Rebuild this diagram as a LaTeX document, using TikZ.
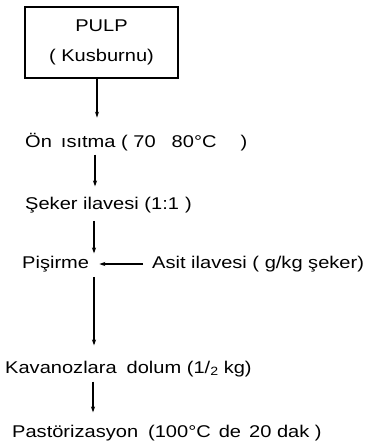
\documentclass[tikz,border=0pt]{standalone}
\usepackage{fontspec}
\setmainfont[FakeStretch=1.18]{Liberation Sans}
\usetikzlibrary{arrows.meta,calc}
\begin{document}
\begin{tikzpicture}[x=1pt,y=1pt,
  txt/.style={inner sep=0pt,anchor=base west,font=\fontsize{17}{20}\selectfont},
  arr/.style={-{Stealth[length=6pt,width=4pt]},line width=1.1pt},
  pbox/.style={draw,line width=1.1pt,minimum width=153pt,minimum height=71pt,inner sep=0pt,align=center,font=\fontsize{17}{30}\selectfont}]
\useasboundingbox (0,0) rectangle (365,-448);
\node[pbox] (pulp) at (101.5,-42.5) {PULP\\( Kusburnu)};
\node[txt] (on) at (25,-147) {Ön\hspace{9pt}ısıtma ( 70\hspace{16pt}80°C\hspace{24pt})};
\node[txt] (seker) at (25,-209) {Şeker ilavesi (1:1\hspace{6pt})};
\node[txt] (pis) at (22,-268) {Pişirme};
\node[txt] (asit) at (152,-268) {Asit ilavesi ( g/kg şeker)};
\node[txt] (kav) at (5,-373) {Kavanozlara\hspace{10pt}dolum (1/\raisebox{-2pt}{\fontsize{12}{12}\selectfont 2} kg)};
\node[txt] (past) at (12,-437) {Pastörizasyon\hspace{10pt}(100°C\hspace{8pt}de\hspace{8pt}20 dak )};
\coordinate (x1) at (97,0);
\coordinate (x2) at (95,0);
\coordinate (x3) at (94,0);
\coordinate (x4) at (93,0);
\draw[arr] (pulp.south -| x1) -- ([yshift=15pt]on.north -| x1);
\draw[arr] ([yshift=-4pt]on.south -| x2) -- ([yshift=10pt]seker.north -| x2);
\draw[arr] ([yshift=-8pt]seker.south -| x3) -- ([yshift=2pt]pis.north -| x3);
\draw[arr] ([xshift=-9pt,yshift=4pt]asit.base west) -- ([xshift=10pt,yshift=4pt]pis.base east);
\draw[arr] ([yshift=-5pt]pis.south -| x3) -- ([yshift=15pt]kav.north -| x3);
\draw[arr] ([yshift=-5pt]kav.south -| x4) -- ([yshift=12pt]past.north -| x4);
\end{tikzpicture}
\end{document}
